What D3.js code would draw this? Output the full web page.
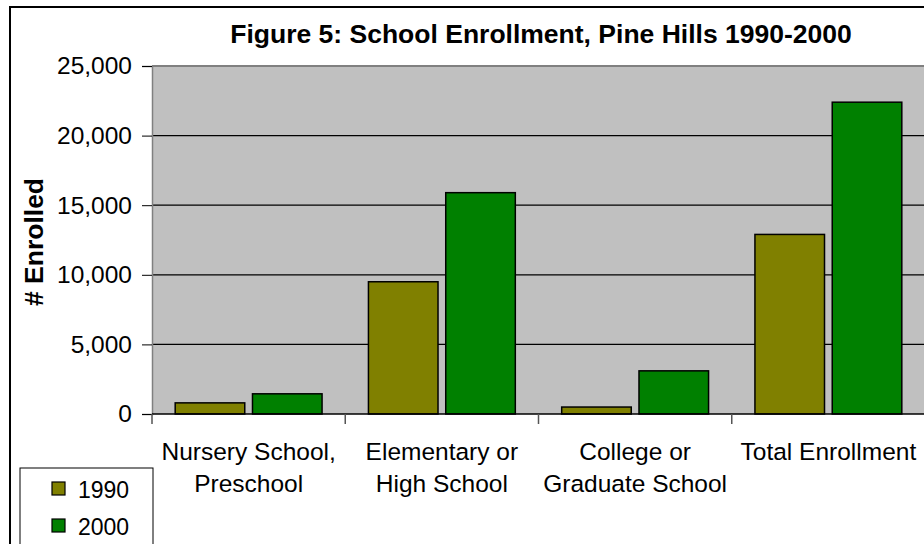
<!DOCTYPE html>
<html><head><meta charset="utf-8">
<script src="https://cdn.jsdelivr.net/npm/d3@7"></script>
<style>body{margin:0;background:#fff}svg{display:block}text{font-family:"Liberation Sans",Arial,sans-serif}</style>
</head><body>
<svg id="c" width="924" height="544"></svg>
<script>
const categories = [["Nursery School,","Preschool"],["Elementary or","High School"],["College or","Graduate School"],["Total Enrollment"]];
const seriesNames = ["1990","2000"];
const values1990 = [800, 9500, 500, 12900];
const values2000 = [1450, 15900, 3100, 22400];
const yTicks = [0, 5000, 10000, 15000, 20000, 25000];
const colors = ["#808000","#008000"];

const svg = d3.select("#c");
const m = {l:152, t:66, r:925, b:414};
svg.append("rect").attr("x",10).attr("y",7).attr("width",930).attr("height",560)
  .attr("fill","#fff").attr("stroke","#000").attr("stroke-width",2);

const x0 = d3.scaleBand().domain(d3.range(categories.length)).range([m.l,m.r]).paddingInner(0).paddingOuter(0);
const y = d3.scaleLinear().domain([0,25000]).range([m.b,m.t]);
const bw = x0.bandwidth();
const x1 = d3.scaleBand().domain([0,1]).range([0,bw]).paddingInner(0.1).paddingOuter(0.3);

svg.append("rect").attr("x",m.l).attr("y",m.t).attr("width",m.r-m.l).attr("height",m.b-m.t).attr("fill","#c0c0c0");
// gridlines
svg.append("g").selectAll("line").data(yTicks.filter(d=>d>0)).join("line")
  .attr("x1",m.l).attr("x2",m.r).attr("y1",d=>y(d)).attr("y2",d=>y(d))
  .attr("stroke",d=>d===25000?"#808080":"#000").attr("stroke-width",d=>d===25000?2:1.2);

// bars
const data = categories.map((c,i)=>[values1990[i],values2000[i]]);
const g = svg.append("g");
data.forEach((vals,i)=>{
  g.selectAll(null).data(vals).join("rect")
   .attr("x",(d,j)=>x0(i)+x1(j)).attr("width",x1.bandwidth())
   .attr("y",d=>y(d)).attr("height",d=>y(0)-y(d))
   .attr("fill",(d,j)=>colors[j]).attr("stroke","#000").attr("stroke-width",1.5);
});

// y axis
const ya = d3.axisLeft(y).tickValues(yTicks).tickSize(10).tickPadding(10).tickFormat(d3.format(","));
const yg = svg.append("g").attr("transform",`translate(${m.l},0)`).call(ya);
yg.select(".domain").attr("stroke","#808080").attr("stroke-width",1.5);
yg.selectAll(".tick line").attr("stroke","#000");
yg.selectAll("text").attr("font-size",24.5).attr("fill","#000").attr("font-family","Liberation Sans, Arial, sans-serif");

// x axis
svg.append("line").attr("x1",m.l).attr("x2",m.r).attr("y1",m.b).attr("y2",m.b).attr("stroke","#000").attr("stroke-width",1.5);
svg.append("g").selectAll("line").data(d3.range(categories.length+1)).join("line")
  .attr("x1",i=>m.l+i*bw).attr("x2",i=>m.l+i*bw).attr("y1",m.b).attr("y2",m.b+10)
  .attr("stroke","#555").attr("stroke-width",1.5);
const cl = svg.append("g");
categories.forEach((lines,i)=>{
  const t = cl.append("text").attr("text-anchor","middle").attr("font-size",24.5).attr("fill","#000");
  lines.forEach((s,k)=>t.append("tspan").attr("x",x0(i)+bw/2).attr("y",460+k*32).text(s));
});

// title
svg.append("text").attr("x",541).attr("y",43).attr("text-anchor","middle").attr("font-size",26.5).attr("font-weight","bold")
  .text("Figure 5: School Enrollment, Pine Hills 1990-2000");
// y label
svg.append("text").attr("transform","translate(43,242) rotate(-90)").attr("text-anchor","middle")
  .attr("font-size",26.5).attr("font-weight","bold").text("# Enrolled");

// legend
const lg = svg.append("g");
lg.append("rect").attr("x",20).attr("y",468).attr("width",133).attr("height",100).attr("fill","#fff").attr("stroke","#000").attr("stroke-width",1);
seriesNames.forEach((s,i)=>{
  lg.append("rect").attr("x",52).attr("y",482+i*37).attr("width",13).attr("height",13).attr("fill",colors[i]).attr("stroke","#000").attr("stroke-width",1.2);
  lg.append("text").attr("x",78).attr("y",498+i*37).attr("font-size",23).text(s);
});
</script>
</body></html>
